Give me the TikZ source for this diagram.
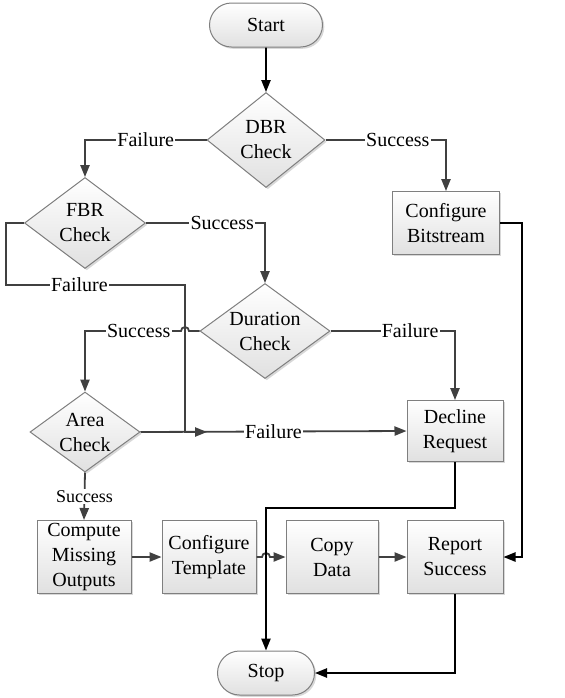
\documentclass[tikz,border=0pt]{standalone}
\usepackage{fontspec}
\setmainfont{Liberation Serif}
\newfontfamily\flowfont{Liberation Serif}
\usetikzlibrary{arrows.meta, calc, shapes.geometric, shapes.misc, shadows}
\definecolor{fline}{HTML}{404040}
\definecolor{fedge}{HTML}{7F7F7F}
\tikzset{
  >={Triangle[length=6pt,width=4.6pt]},
  font=\flowfont\fontsize{10}{12.5}\selectfont,
  box/.style={
    draw=fedge, line width=0.5pt, top color=white, bottom color=black!12,
    drop shadow={shadow xshift=0.9pt, shadow yshift=-0.9pt, fill=black!30},
    align=center, inner sep=0pt
  },
  term/.style={box, rounded rectangle, minimum height=22pt, minimum width=#1},
  term/.default=50pt,
  decision/.style={box, diamond, shape aspect=1.3},
  proc/.style={box, rectangle, minimum width=47pt, minimum height=36.5pt},
  arr/.style={->, draw=fline, line width=0.9pt},
  blackarr/.style={->, draw=black, line width=0.9pt},
  lab/.style={fill=white, inner sep=0.6pt, text=black}
}
\begin{document}
\begin{tikzpicture}[x=0.5pt, y=0.5pt]
  \useasboundingbox (0,0) rectangle (565,-698);
  % terminals, checks and side boxes
  \node[term=56.5pt] (start) at (266,-25) {Start};
  \node[decision, minimum width=59pt, minimum height=47.5pt] (dbr) at (266,-140) {DBR\\Check};
  \node[decision, minimum width=60.5pt, minimum height=45.5pt] (fbr) at (85,-223) {FBR\\Check};
  \node[decision, minimum width=65pt, minimum height=47.5pt, shape aspect=1.37] (dur) at (265,-331) {Duration\\Check};
  \node[decision, minimum width=55pt, minimum height=40pt, shape aspect=1.38] (area) at (85,-432) {Area\\Check};
  \node[proc, minimum width=53.5pt, minimum height=31.5pt] (bits) at (446,-223) {Configure\\Bitstream};
  \node[proc, minimum width=48pt, minimum height=30.5pt] (decline) at (455,-431) {Decline\\Request};
  % bottom row
  \node[proc] (missing) at (84,-557) {Compute\\Missing\\Outputs};
  \node[proc] (tmpl) at (209,-557) {Configure\\Template};
  \node[proc, minimum width=46pt] (copy) at (332,-557) {Copy\\Data};
  \node[proc, minimum width=48pt] (report) at (455,-557) {Report\\Success};
  \node[term=48.5pt] (stop) at (266,-673) {Stop};
  \coordinate (fbrdrop) at (185,-285);
  \coordinate (merge) at (207,-432);

  \draw[blackarr] (start) -- (dbr);
  \draw[arr] (dbr.west) -| node[lab,pos=0.25]{Failure} (fbr.north);
  \draw[arr] (dbr.east) -| node[lab,pos=0.3]{Success} (bits.north);
  \draw[arr] (fbr.east) -| node[lab,pos=0.32]{Success} (dur.north);
  \draw[arr] (fbr.west) -- ++(-18,0) |- node[lab,pos=0.705]{Failure} (fbrdrop) |- (merge);
  \draw[arr] (dur.west) -- ($(fbrdrop |- dur.west)+(4,0)$)
    arc[start angle=0, end angle=180, radius=2pt] -| node[lab,pos=0.22]{Success} (area.north);
  \draw[arr] (dur.east) -| node[lab,pos=0.32]{Failure} (decline.north);
  \draw[arr] (area.east) -- node[lab]{Failure} (decline.west);
  \draw[arr] (area.south) -- node[lab,font=\flowfont\fontsize{9}{11}\selectfont]{Success} (missing.north);
  \draw[arr] (missing) -- (tmpl);
  \draw[arr] (tmpl.east) -- ($(tmpl.east -| stop.north)+(-4,0)$)
    arc[start angle=180, end angle=0, radius=2pt] -- (copy.west);
  \draw[arr] (copy) -- (report);
  \draw[blackarr] (bits.east) -- ++(22,0) |- (report.east);
  \draw[blackarr] (decline.south) -- ++(0,-46) -| (stop.north);
  \draw[blackarr] (report.south) |- (stop.east);
\end{tikzpicture}
\end{document}
